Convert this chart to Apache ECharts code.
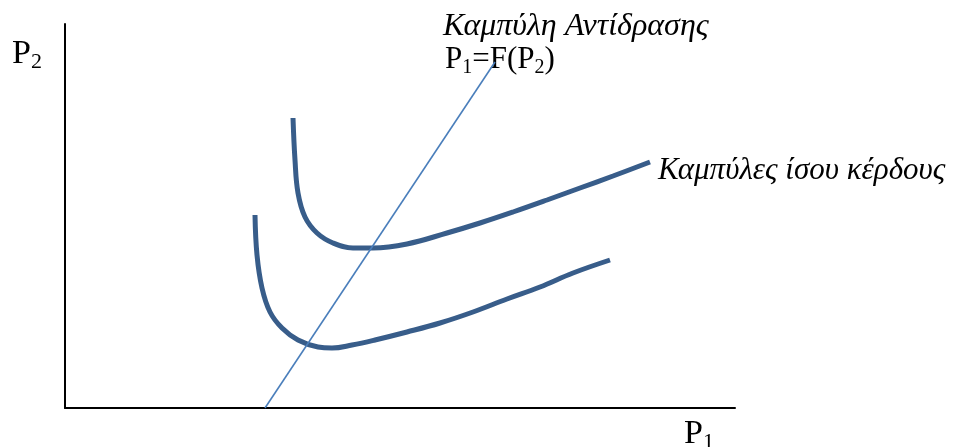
<!DOCTYPE html>
<html>
<head>
<meta charset="utf-8">
<script src="https://cdn.jsdelivr.net/npm/echarts@6/dist/echarts.min.js"></script>
<style>
html, body { margin: 0; padding: 0; background: #fff; }
#main { width: 959px; height: 447px; }
</style>
</head>
<body>
<div id="main"></div>
<script>
// 坐标范围 (任意单位, 原点在左下)
var xMax = 670;
var yMax = 384;

// 较高的等利润曲线
var upperX = [228, 230, 233, 240, 252, 268, 288, 308, 342, 382, 415, 448, 482, 515, 548, 585];
var upperY = [290, 248, 215, 191, 175, 165, 160, 160, 164, 175, 185, 196, 208, 220, 232, 246];

// 较低的等利润曲线
var lowerX = [190, 192, 197, 205, 217, 233, 253, 267, 287, 310, 342, 375, 408, 442, 475, 508, 545];
var lowerY = [193, 153, 120, 96, 80, 68, 61, 60, 63, 68, 76, 85, 96, 109, 121, 135, 148];

// 反应曲线 P1=F(P2)
var reactX = [200, 430];
var reactY = [0, 346];

var curveColor = '#385d8a';
var reactColor = '#4a7ebb';

function toPairs(xs, ys) {
	var out = [];
	for (var i = 0; i < xs.length; i++) {
		out.push([xs[i], ys[i]]);
	}
	return out;
}

var chart = echarts.init(document.getElementById('main'));

var serif = '"Liberation Serif", "DejaVu Serif", serif';
// 公式文字 (下标)
var richFormula = {
	big: { fontSize: 31, fontFamily: serif, color: '#000', lineHeight: 36 },
	sub: { fontSize: 20, fontFamily: serif, color: '#000', lineHeight: 22, verticalAlign: 'bottom' }
};
// 坐标轴名称
var richAxis = {
	big: { fontSize: 34, fontFamily: serif, color: '#000', lineHeight: 38 },
	sub: { fontSize: 22, fontFamily: serif, color: '#000', lineHeight: 24, verticalAlign: 'bottom' }
};

var option = {
	animation: false,
	grid: { left: 65, top: 24, width: 670, height: 384 },
	xAxis: {
		type: 'value', min: 0, max: xMax,
		axisLine: { show: true, lineStyle: { color: '#000', width: 2 } },
		axisTick: { show: false }, axisLabel: { show: false }, splitLine: { show: false }
	},
	yAxis: {
		type: 'value', min: 0, max: yMax,
		axisLine: { show: true, lineStyle: { color: '#000', width: 2 } },
		axisTick: { show: false }, axisLabel: { show: false }, splitLine: { show: false }
	},
	series: [
		{
			type: 'line', data: toPairs(upperX, upperY), smooth: 0.4, showSymbol: false,
			lineStyle: { color: curveColor, width: 5 }
		},
		{
			type: 'line', data: toPairs(lowerX, lowerY), smooth: 0.4, showSymbol: false,
			lineStyle: { color: curveColor, width: 5 }
		},
		{
			type: 'line', data: toPairs(reactX, reactY), showSymbol: false,
			lineStyle: { color: reactColor, width: 1.6 }
		}
	],
	graphic: [
		{
			type: 'text', left: 443, top: 11,
			style: { text: 'Καμπύλη Αντίδρασης', font: 'italic 32px ' + serif, fill: '#000' }
		},
		{
			type: 'text', left: 445, top: 44,
			style: { text: '{big|P}{sub|1}{big|=F(P}{sub|2}{big|)}', rich: richFormula }
		},
		{
			type: 'text', left: 658, top: 155,
			style: { text: 'Καμπύλες ίσου κέρδους', font: 'italic 31px ' + serif, fill: '#000' }
		},
		{
			type: 'text', left: 12, top: 37,
			style: { text: '{big|P}{sub|2}', rich: richAxis }
		},
		{
			type: 'text', left: 684, top: 417,
			style: { text: '{big|P}{sub|1}', rich: richAxis }
		}
	]
};

chart.setOption(option);
</script>
</body>
</html>
